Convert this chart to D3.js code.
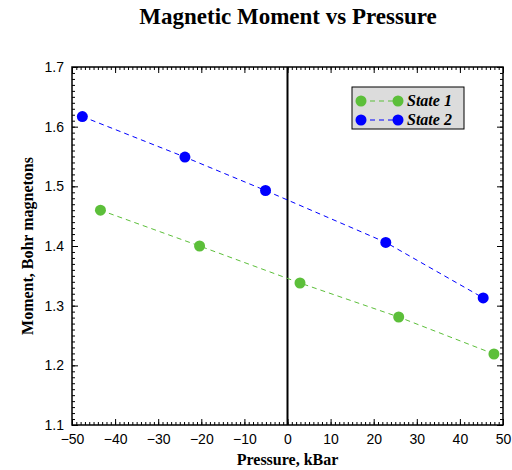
<!DOCTYPE html>
<html lang="en">
<head>
    <meta charset="utf-8">
    <title>Magnetic Moment vs Pressure</title>
    <script src="https://d3js.org/d3.v7.min.js"></script>
    <style>
        body { margin: 0; background: white; }
        .title { font-family: "Liberation Serif", "Times New Roman", serif; font-weight: bold; font-size: 23px; text-anchor: middle; }
        .axislabel { font-family: "Liberation Serif", "Times New Roman", serif; font-weight: bold; font-size: 16px; text-anchor: middle; }
        .tick text { font-family: "Liberation Sans", Arial, sans-serif; font-size: 14px; fill: black; }
        .legendtext { font-family: "Liberation Serif", "Times New Roman", serif; font-weight: bold; font-style: italic; font-size: 16px; }
    </style>
</head>
<body>
<div id="chart"></div>
<script>
    //Data
    var seriesNames = ["State 1", "State 2"];
    var seriesColors = ["#5cbf3a", "#0000ff"];
    var state1Pressure = [-43.4, -20.4, 2.9, 25.8, 47.9];
    var state1Moment = [1.460, 1.400, 1.338, 1.281, 1.219];
    var state2Pressure = [-47.6, -23.8, -5.1, 22.8, 45.4];
    var state2Moment = [1.617, 1.549, 1.493, 1.406, 1.313];
    var xTicks = [-50, -40, -30, -20, -10, 0, 10, 20, 30, 40, 50];
    var yTicks = [1.1, 1.2, 1.3, 1.4, 1.5, 1.6, 1.7];

    var w = 512, h = 470;
    var margin = { left: 72, right: 9, top: 67, bottom: 45 };

    var svg = d3.select("#chart").append("svg")
        .attr("width", w)
        .attr("height", h);

    var x = d3.scaleLinear().domain([-50, 50]).range([margin.left, w - margin.right]);
    var y = d3.scaleLinear().domain([1.1, 1.7]).range([h - margin.bottom, margin.top]);

    var fmtX = function (d) { return d < 0 ? "\u2212" + Math.abs(d) : String(d); };

    //Minor ticks on all four sides, pointing inward
    var xMinor = d3.range(-50, 50.01, 1);
    var yMinor = d3.range(1.1, 1.7001, 0.01);

    svg.append("g")
        .attr("transform", "translate(0," + y(1.1) + ")")
        .call(d3.axisBottom(x).tickValues(xMinor).tickSize(-3).tickFormat(""))
        .call(function (g) { g.select(".domain").remove(); });
    svg.append("g")
        .attr("transform", "translate(0," + y(1.7) + ")")
        .call(d3.axisTop(x).tickValues(xMinor).tickSize(-3).tickFormat(""))
        .call(function (g) { g.select(".domain").remove(); });
    svg.append("g")
        .attr("transform", "translate(" + x(-50) + ",0)")
        .call(d3.axisLeft(y).tickValues(yMinor).tickSize(-3).tickFormat(""))
        .call(function (g) { g.select(".domain").remove(); });
    svg.append("g")
        .attr("transform", "translate(" + x(50) + ",0)")
        .call(d3.axisRight(y).tickValues(yMinor).tickSize(-3).tickFormat(""))
        .call(function (g) { g.select(".domain").remove(); });

    //Major ticks
    svg.append("g")
        .attr("transform", "translate(0," + y(1.1) + ")")
        .call(d3.axisBottom(x).tickValues(xTicks).tickSizeInner(-6).tickSizeOuter(0).tickPadding(9).tickFormat(fmtX))
        .call(function (g) { g.select(".domain").remove(); });
    svg.append("g")
        .attr("transform", "translate(0," + y(1.7) + ")")
        .call(d3.axisTop(x).tickValues(xTicks).tickSizeInner(-6).tickSizeOuter(0).tickFormat(""))
        .call(function (g) { g.select(".domain").remove(); });
    svg.append("g")
        .attr("transform", "translate(" + x(-50) + ",0)")
        .call(d3.axisLeft(y).tickValues(yTicks).tickSizeInner(-6).tickSizeOuter(0).tickPadding(8).tickFormat(d3.format(".1f")))
        .call(function (g) { g.select(".domain").remove(); });
    svg.append("g")
        .attr("transform", "translate(" + x(50) + ",0)")
        .call(d3.axisRight(y).tickValues(yTicks).tickSizeInner(-6).tickSizeOuter(0).tickFormat(""))
        .call(function (g) { g.select(".domain").remove(); });

    //Frame
    svg.append("rect")
        .attr("x", x(-50)).attr("y", y(1.7))
        .attr("width", x(50) - x(-50)).attr("height", y(1.1) - y(1.7))
        .attr("fill", "none").attr("stroke", "black").attr("stroke-width", 1.5);

    //Zero line
    svg.append("line")
        .attr("x1", x(0)).attr("x2", x(0))
        .attr("y1", y(1.7)).attr("y2", y(1.1))
        .attr("stroke", "black").attr("stroke-width", 2);

    //Series
    var series = [
        { name: seriesNames[0], color: seriesColors[0], px: state1Pressure, py: state1Moment },
        { name: seriesNames[1], color: seriesColors[1], px: state2Pressure, py: state2Moment }
    ];

    var line = d3.line()
        .x(function (d) { return x(d[0]); })
        .y(function (d) { return y(d[1]); });

    series.forEach(function (s) {
        var pts = s.px.map(function (v, i) { return [v, s.py[i]]; });
        svg.append("path")
            .datum(pts)
            .attr("d", line)
            .attr("fill", "none")
            .attr("stroke", s.color)
            .attr("stroke-width", 1)
            .attr("stroke-dasharray", "5,4");
        svg.selectAll(null)
            .data(pts)
            .enter()
            .append("circle")
            .attr("cx", function (d) { return x(d[0]); })
            .attr("cy", function (d) { return y(d[1]); })
            .attr("r", 5.5)
            .attr("fill", s.color);
    });

    //Legend
    var lg = svg.append("g").attr("transform", "translate(352,87)");
    lg.append("rect")
        .attr("width", 112).attr("height", 42)
        .attr("fill", "#dcdcdc").attr("stroke", "black").attr("stroke-width", 1);
    series.forEach(function (s, i) {
        var yy = 14 + i * 19;
        lg.append("line")
            .attr("x1", 9).attr("x2", 46).attr("y1", yy).attr("y2", yy)
            .attr("stroke", s.color).attr("stroke-dasharray", "5,4");
        lg.append("circle").attr("cx", 9).attr("cy", yy).attr("r", 5.5).attr("fill", s.color);
        lg.append("circle").attr("cx", 46).attr("cy", yy).attr("r", 5.5).attr("fill", s.color);
        lg.append("text")
            .attr("class", "legendtext")
            .attr("x", 55).attr("y", yy + 5)
            .text(s.name);
    });

    //Titles
    svg.append("text")
        .attr("class", "title")
        .attr("x", 288).attr("y", 24)
        .text("Magnetic Moment vs Pressure");
    svg.append("text")
        .attr("class", "axislabel")
        .attr("x", x(0)).attr("y", 465)
        .text("Pressure, kBar");
    svg.append("text")
        .attr("class", "axislabel")
        .attr("transform", "translate(33," + y(1.4) + ") rotate(-90)")
        .text("Moment, Bohr magnetons");
</script>
</body>
</html>
